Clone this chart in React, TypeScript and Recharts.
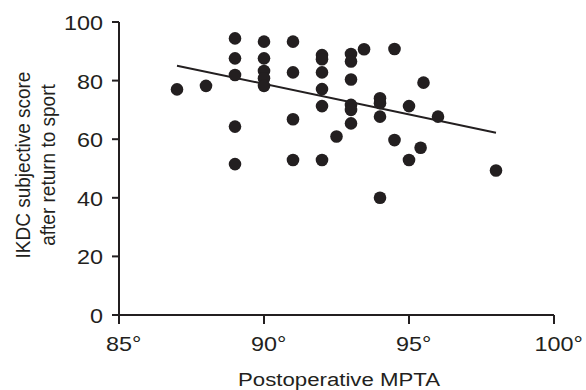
import React from 'react';
import { ScatterChart, Scatter, XAxis, YAxis, ReferenceLine, Label } from 'recharts';

const mptaValues = [87, 88, 89, 89, 89, 89, 89, 90, 90, 90, 90, 90, 91, 91, 91, 91, 92, 92, 92, 92, 92, 92, 92.5, 93, 93, 93, 93, 93, 93, 93.45, 94, 94, 94, 94, 94.5, 94.5, 95, 95, 95.4, 95.5, 96, 98];
const ikdcValues = [77, 78.2, 94.4, 87.6, 81.9, 64.3, 51.5, 93.3, 87.6, 83.3, 80.8, 78.2, 93.3, 82.8, 66.8, 52.9, 88.7, 87.3, 82.8, 77.1, 71.3, 52.9, 60.9, 89.1, 86.5, 80.4, 71.7, 70, 65.4, 90.7, 74, 72.3, 67.7, 40, 90.8, 59.7, 71.3, 52.9, 57.1, 79.3, 67.7, 49.3];
const fitStart = { x: 87, y: 85.1 };
const fitEnd = { x: 98, y: 62.2 };
const xTicks = [85, 90, 95, 100];
const yTicks = [0, 20, 40, 60, 80, 100];

const points = mptaValues.map((x, i) => ({ x, y: ikdcValues[i] }));

const INK = '#231f20';
const FONT = '"Liberation Sans", Arial, Helvetica, sans-serif';
const SX = 1.17;

const XTick = (props: any) => {
  const { x, y, payload } = props;
  return (
    <g transform={`translate(${x},${y})`}>
      <text transform={`scale(${SX},1)`} textAnchor="middle" dx={4} dy="0.71em" fontSize={20} fontFamily={FONT} fill={INK}>
        {`${payload.value}°`}
      </text>
    </g>
  );
};

const YTick = (props: any) => {
  const { x, y, payload } = props;
  return (
    <g transform={`translate(${x},${y})`}>
      <text transform={`scale(${SX},1)`} textAnchor="end" dy="0.4em" fontSize={20} fontFamily={FONT} fill={INK}>
        {payload.value}
      </text>
    </g>
  );
};

const YTitle = () => (
  <g>
    <g transform={`translate(30,165) scale(${SX * 0.95},1) rotate(-90)`}>
      <text textAnchor="middle" fontSize={19} fontFamily={FONT} fill={INK}>IKDC subjective score</text>
    </g>
    <g transform={`translate(55,165) scale(${SX * 0.95},1) rotate(-90)`}>
      <text textAnchor="middle" fontSize={19} fontFamily={FONT} fill={INK}>after return to sport</text>
    </g>
  </g>
);

const XTitle = () => (
  <g transform={`translate(339,386) scale(${SX},1)`}>
    <text textAnchor="middle" fontSize={19} fontFamily={FONT} fill={INK}>Postoperative MPTA</text>
  </g>
);

export default function App() {
  return (
    <div style={{ position: 'absolute', left: 0, top: 0, width: 586, height: 390, overflow: 'hidden' }}>
      <ScatterChart width={586} height={390} margin={{ top: 22, right: 32, bottom: 0, left: 39 }} style={{ overflow: 'visible' }}>
        <XAxis
          type="number"
          dataKey="x"
          domain={[85, 100]}
          ticks={xTicks}
          height={75}
          axisLine={{ stroke: INK, strokeWidth: 2 }}
          tickLine={{ stroke: INK, strokeWidth: 2 }}
          tickSize={9}
          tickMargin={13}
          tick={<XTick />}
          interval={0}
        >
          <Label content={<XTitle />} />
        </XAxis>
        <YAxis
          type="number"
          dataKey="y"
          domain={[0, 100]}
          ticks={yTicks}
          width={80}
          axisLine={{ stroke: INK, strokeWidth: 2 }}
          tickLine={{ stroke: INK, strokeWidth: 2 }}
          tickSize={7}
          tickMargin={9}
          tick={<YTick />}
          interval={0}
        >
          <Label content={<YTitle />} />
        </YAxis>
        <ReferenceLine
          segment={[fitStart, fitEnd]}
          stroke={INK}
          strokeWidth={2}
          ifOverflow="visible"
        />
        <Scatter data={points} fill={INK} isAnimationActive={false} shape={(p: any) => <circle cx={p.cx} cy={p.cy} r={6.3} fill={INK} />} />
      </ScatterChart>
    </div>
  );
}
